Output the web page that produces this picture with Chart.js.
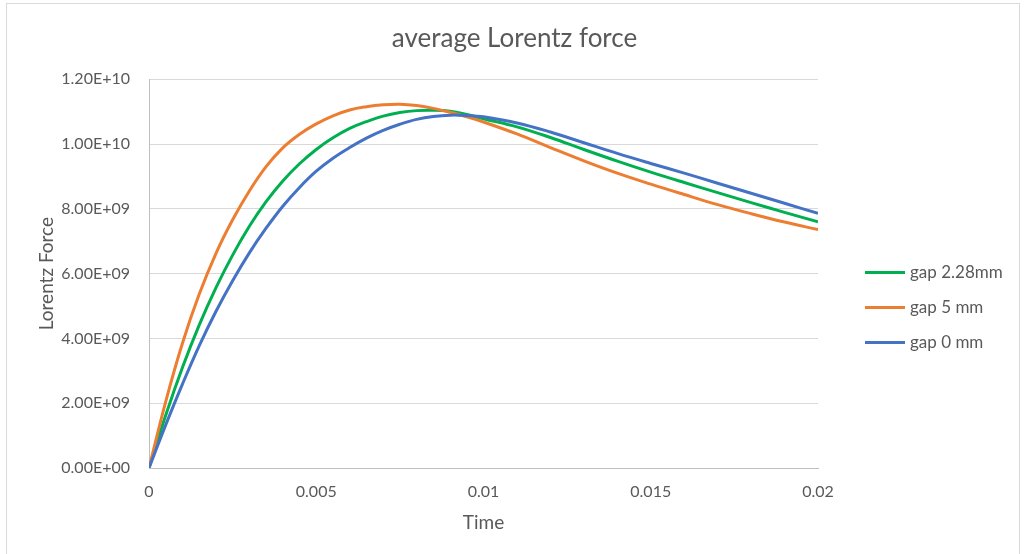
<!DOCTYPE html>
<html>
<head>
<meta charset="utf-8">
<title>average Lorentz force</title>
<script src="https://cdn.jsdelivr.net/npm/chart.js@4.4.1/dist/chart.umd.min.js"></script>
<style>
  html, body { margin: 0; padding: 0; background: #ffffff; overflow: hidden; }
  #frame { position: absolute; left: 6px; top: 3px; width: 1014px; height: 600px; border: 1px solid #d9d9d9; box-sizing: border-box; }
  #wrap { position: absolute; left: 0; top: 0; width: 1029px; height: 554px; }
</style>
</head>
<body>
<div id="frame"></div>
<div id="wrap"><canvas id="chart" width="1029" height="554"></canvas></div>
<script>
// Sample times (s)
const timeValues = [0, 0.0005, 0.001, 0.0015, 0.002, 0.0025, 0.003, 0.0035, 0.004, 0.0045, 0.005, 0.0055, 0.006,
                    0.0065, 0.007, 0.0075, 0.008, 0.0085, 0.009, 0.0095, 0.010,
                    0.011, 0.012, 0.013, 0.014, 0.015, 0.016, 0.017, 0.018, 0.019, 0.020];

// Average Lorentz force for each gap size
const gap228mm = [0, 1.63e9, 3.10e9, 4.41e9, 5.56e9, 6.57e9, 7.46e9, 8.22e9, 8.86e9, 9.39e9, 9.83e9, 10.19e9, 10.48e9,
                  10.69e9, 10.86e9, 10.97e9, 11.03e9, 11.04e9, 11.01e9, 10.91e9, 10.78e9,
                  10.53e9, 10.20e9, 9.83e9, 9.47e9, 9.13e9, 8.81e9, 8.50e9, 8.19e9, 7.89e9, 7.60e9];
const gap5mm   = [0, 2.05e9, 3.85e9, 5.36e9, 6.62e9, 7.66e9, 8.55e9, 9.30e9, 9.88e9, 10.30e9, 10.62e9, 10.87e9, 11.05e9,
                  11.15e9, 11.21e9, 11.23e9, 11.19e9, 11.10e9, 10.98e9, 10.84e9, 10.68e9,
                  10.31e9, 9.89e9, 9.48e9, 9.10e9, 8.76e9, 8.44e9, 8.13e9, 7.85e9, 7.59e9, 7.36e9];
const gap0mm   = [0, 1.33e9, 2.59e9, 3.77e9, 4.83e9, 5.78e9, 6.64e9, 7.40e9, 8.08e9, 8.66e9, 9.16e9, 9.56e9, 9.89e9,
                  10.18e9, 10.42e9, 10.61e9, 10.76e9, 10.85e9, 10.89e9, 10.88e9, 10.84e9,
                  10.65e9, 10.37e9, 10.04e9, 9.71e9, 9.40e9, 9.10e9, 8.79e9, 8.48e9, 8.17e9, 7.86e9];

const seriesNames  = ['gap 2.28mm', 'gap 5 mm', 'gap 0 mm'];
const seriesColors = ['#00B050', '#ED7D31', '#4472C4'];

// Axis ticks
const forceTicks      = [0, 2e9, 4e9, 6e9, 8e9, 1e10, 1.2e10];
const forceTickLabels = ['0.00E+00', '2.00E+09', '4.00E+09', '6.00E+09', '8.00E+09', '1.00E+10', '1.20E+10'];
const timeTicks       = [0, 0.005, 0.01, 0.015, 0.02];
const timeTickLabels  = ['0', '0.005', '0.01', '0.015', '0.02'];

const TEXT = '#595959';
const FONT = 'Lato, "Open Sans", sans-serif';

function toPoints(values) {
  return timeValues.map((t, i) => ({ x: t, y: values[i] }));
}

// Legend drawn beside the plot: short line sample followed by the series name
const sideLegend = {
  id: 'sideLegend',
  afterDraw(chart, args, opts) {
    const { ctx, chartArea } = chart;
    const x0 = chartArea.right + opts.offsetX;
    const midY = (chartArea.top + chartArea.bottom) / 2 + opts.offsetY;
    const sets = chart.data.datasets;
    ctx.save();
    ctx.font = opts.font;
    ctx.textBaseline = 'middle';
    ctx.textAlign = 'left';
    sets.forEach((ds, i) => {
      const y = Math.round(midY + (i - (sets.length - 1) / 2) * opts.spacing) + 0.5;
      ctx.strokeStyle = ds.borderColor;
      ctx.lineWidth = ds.borderWidth;
      ctx.beginPath();
      ctx.moveTo(x0, y);
      ctx.lineTo(x0 + opts.lineLength, y);
      ctx.stroke();
      ctx.fillStyle = opts.color;
      ctx.fillText(ds.label, x0 + opts.lineLength + opts.gap, y);
    });
    ctx.restore();
  }
};

const seriesData = [gap228mm, gap5mm, gap0mm];
const drawOrder  = [2, 1, 0];

new Chart(document.getElementById('chart'), {
  type: 'line',
  data: {
    datasets: seriesData.map((vals, i) => ({
      label: seriesNames[i],
      data: toPoints(vals),
      borderColor: seriesColors[i],
      backgroundColor: seriesColors[i],
      borderWidth: 3,
      pointRadius: 0,
      pointHoverRadius: 0,
      fill: false,
      tension: 0.4,
      order: drawOrder[i]
    }))
  },
  options: {
    responsive: false,
    animation: false,
    events: [],
    layout: { padding: { top: 0, left: 0, right: 0, bottom: 0 } },
    scales: {
      x: {
        type: 'linear',
        min: 0,
        max: 0.02,
        afterBuildTicks: s => { s.ticks = timeTicks.map(v => ({ value: v })); },
        afterFit: s => { s.height = 86; },
        ticks: {
          padding: 14,
          color: TEXT,
          font: { family: FONT, size: 16 },
          maxRotation: 0,
          autoSkip: false,
          callback: (v, i) => timeTickLabels[i]
        },
        grid: { display: false, drawTicks: false },
        border: { display: true, color: '#BFBFBF', width: 1 },
        title: {
          display: true,
          text: 'Time',
          color: TEXT,
          font: { family: FONT, size: 19 },
          padding: { top: 0, bottom: 20 }
        }
      },
      y: {
        type: 'linear',
        position: 'left',
        min: 0,
        max: 1.2e10,
        afterBuildTicks: s => { s.ticks = forceTicks.map(v => ({ value: v })); },
        afterFit: s => { s.width = 149; },
        ticks: {
          padding: 19,
          color: TEXT,
          font: { family: FONT, size: 16 },
          callback: (v, i) => forceTickLabels[i]
        },
        grid: { color: '#D9D9D9', lineWidth: 1, drawTicks: false },
        border: { display: true, color: '#BFBFBF', width: 1 },
        title: {
          display: true,
          text: 'Lorentz Force',
          color: TEXT,
          font: { family: FONT, size: 19 },
          padding: { top: 35, bottom: 0 }
        }
      },
      // empty band on the right that holds the legend
      legendBand: {
        type: 'linear',
        position: 'right',
        display: true,
        afterFit: s => { s.width = 211; },
        ticks: { display: false },
        grid: { display: false, drawTicks: false },
        border: { display: false },
        title: { display: false }
      }
    },
    plugins: {
      legend: { display: false },
      tooltip: { enabled: false },
      title: {
        display: true,
        text: 'average Lorentz force',
        color: TEXT,
        font: { family: FONT, size: 26, weight: 'normal' },
        padding: { top: 23, bottom: 25 }
      },
      sideLegend: {
        offsetX: 47,
        offsetY: 33,
        spacing: 35,
        lineLength: 40,
        gap: 5,
        font: '17px ' + FONT,
        color: TEXT
      }
    }
  },
  plugins: [sideLegend]
});
</script>
</body>
</html>
